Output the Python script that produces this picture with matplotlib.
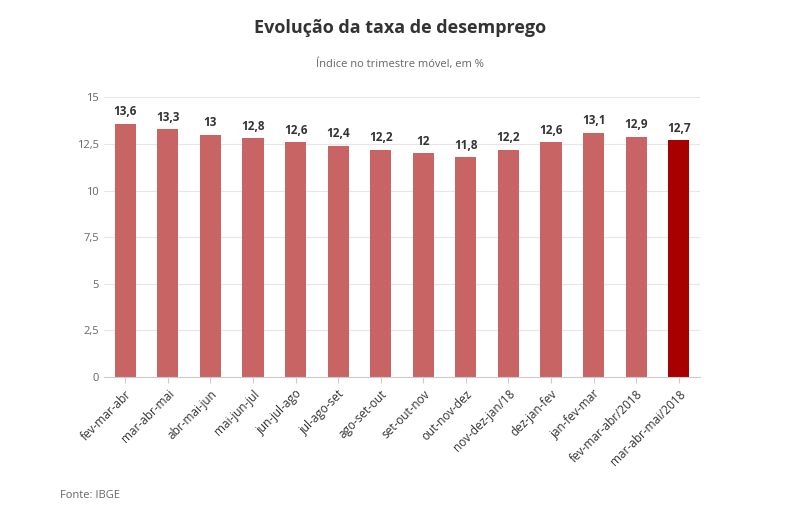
import matplotlib.pyplot as plt

categorias = ["fev-mar-abr", "mar-abr-mai", "abr-mai-jun", "mai-jun-jul", "jun-jul-ago",
              "jul-ago-set", "ago-set-out", "set-out-nov", "out-nov-dez", "nov-dez-jan/18",
              "dez-jan-fev", "jan-fev-mar", "fev-mar-abr/2018", "mar-abr-mai/2018"]
taxa = [13.6, 13.3, 13.0, 12.8, 12.6, 12.4, 12.2, 12.0, 11.8, 12.2, 12.6, 13.1, 12.9, 12.7]
rotulos = ["13,6", "13,3", "13", "12,8", "12,6", "12,4", "12,2", "12", "11,8", "12,2",
           "12,6", "13,1", "12,9", "12,7"]
yticks = [0, 2.5, 5, 7.5, 10, 12.5, 15]
ylabels = ["0", "2,5", "5", "7,5", "10", "12,5", "15"]

plt.rcParams['font.family'] = ['Open Sans', 'DejaVu Sans']
fig = plt.figure(figsize=(8, 5.13), dpi=100)
ax = fig.add_axes([0.13, 0.265, 0.745, 0.545])

cores = ["#c96464"] * (len(taxa) - 1) + ["#a80000"]
x = range(len(taxa))
ax.bar(x, taxa, width=0.5, color=cores)
for i, v in enumerate(taxa):
    ax.text(i, v + 0.3, rotulos[i], ha='center', va='bottom', fontsize=8.5,
            fontweight='bold', color='#333333')

ax.set_xlim(-0.5, len(taxa) - 0.5)
ax.set_ylim(0, 15)
ax.set_yticks(yticks)
ax.set_yticklabels(ylabels, fontsize=8, color='#666666')
ax.yaxis.grid(True, color='#e6e6e6', linewidth=0.8)
ax.set_axisbelow(True)
ax.tick_params(axis='y', length=0)
ax.set_xticks(list(x))
ax.set_xticklabels(categorias, rotation=45, ha='right', rotation_mode='anchor',
                   fontsize=8.5, color='#333333')
ax.tick_params(axis='x', length=4, color='#cccccc')
for s in ['top', 'right', 'left']:
    ax.spines[s].set_visible(False)
ax.spines['bottom'].set_color('#cccccc')

fig.text(0.5, 0.935, "Evolução da taxa de desemprego", ha='center', fontsize=13,
         fontweight='bold', color='#333333')
fig.text(0.5, 0.87, "Índice no trimestre móvel, em %", ha='center', fontsize=8,
         color='#666666')
fig.text(0.075, 0.03, "Fonte: IBGE", fontsize=8, color='#666666')
fig.savefig("out.png", dpi=100, facecolor='white')
